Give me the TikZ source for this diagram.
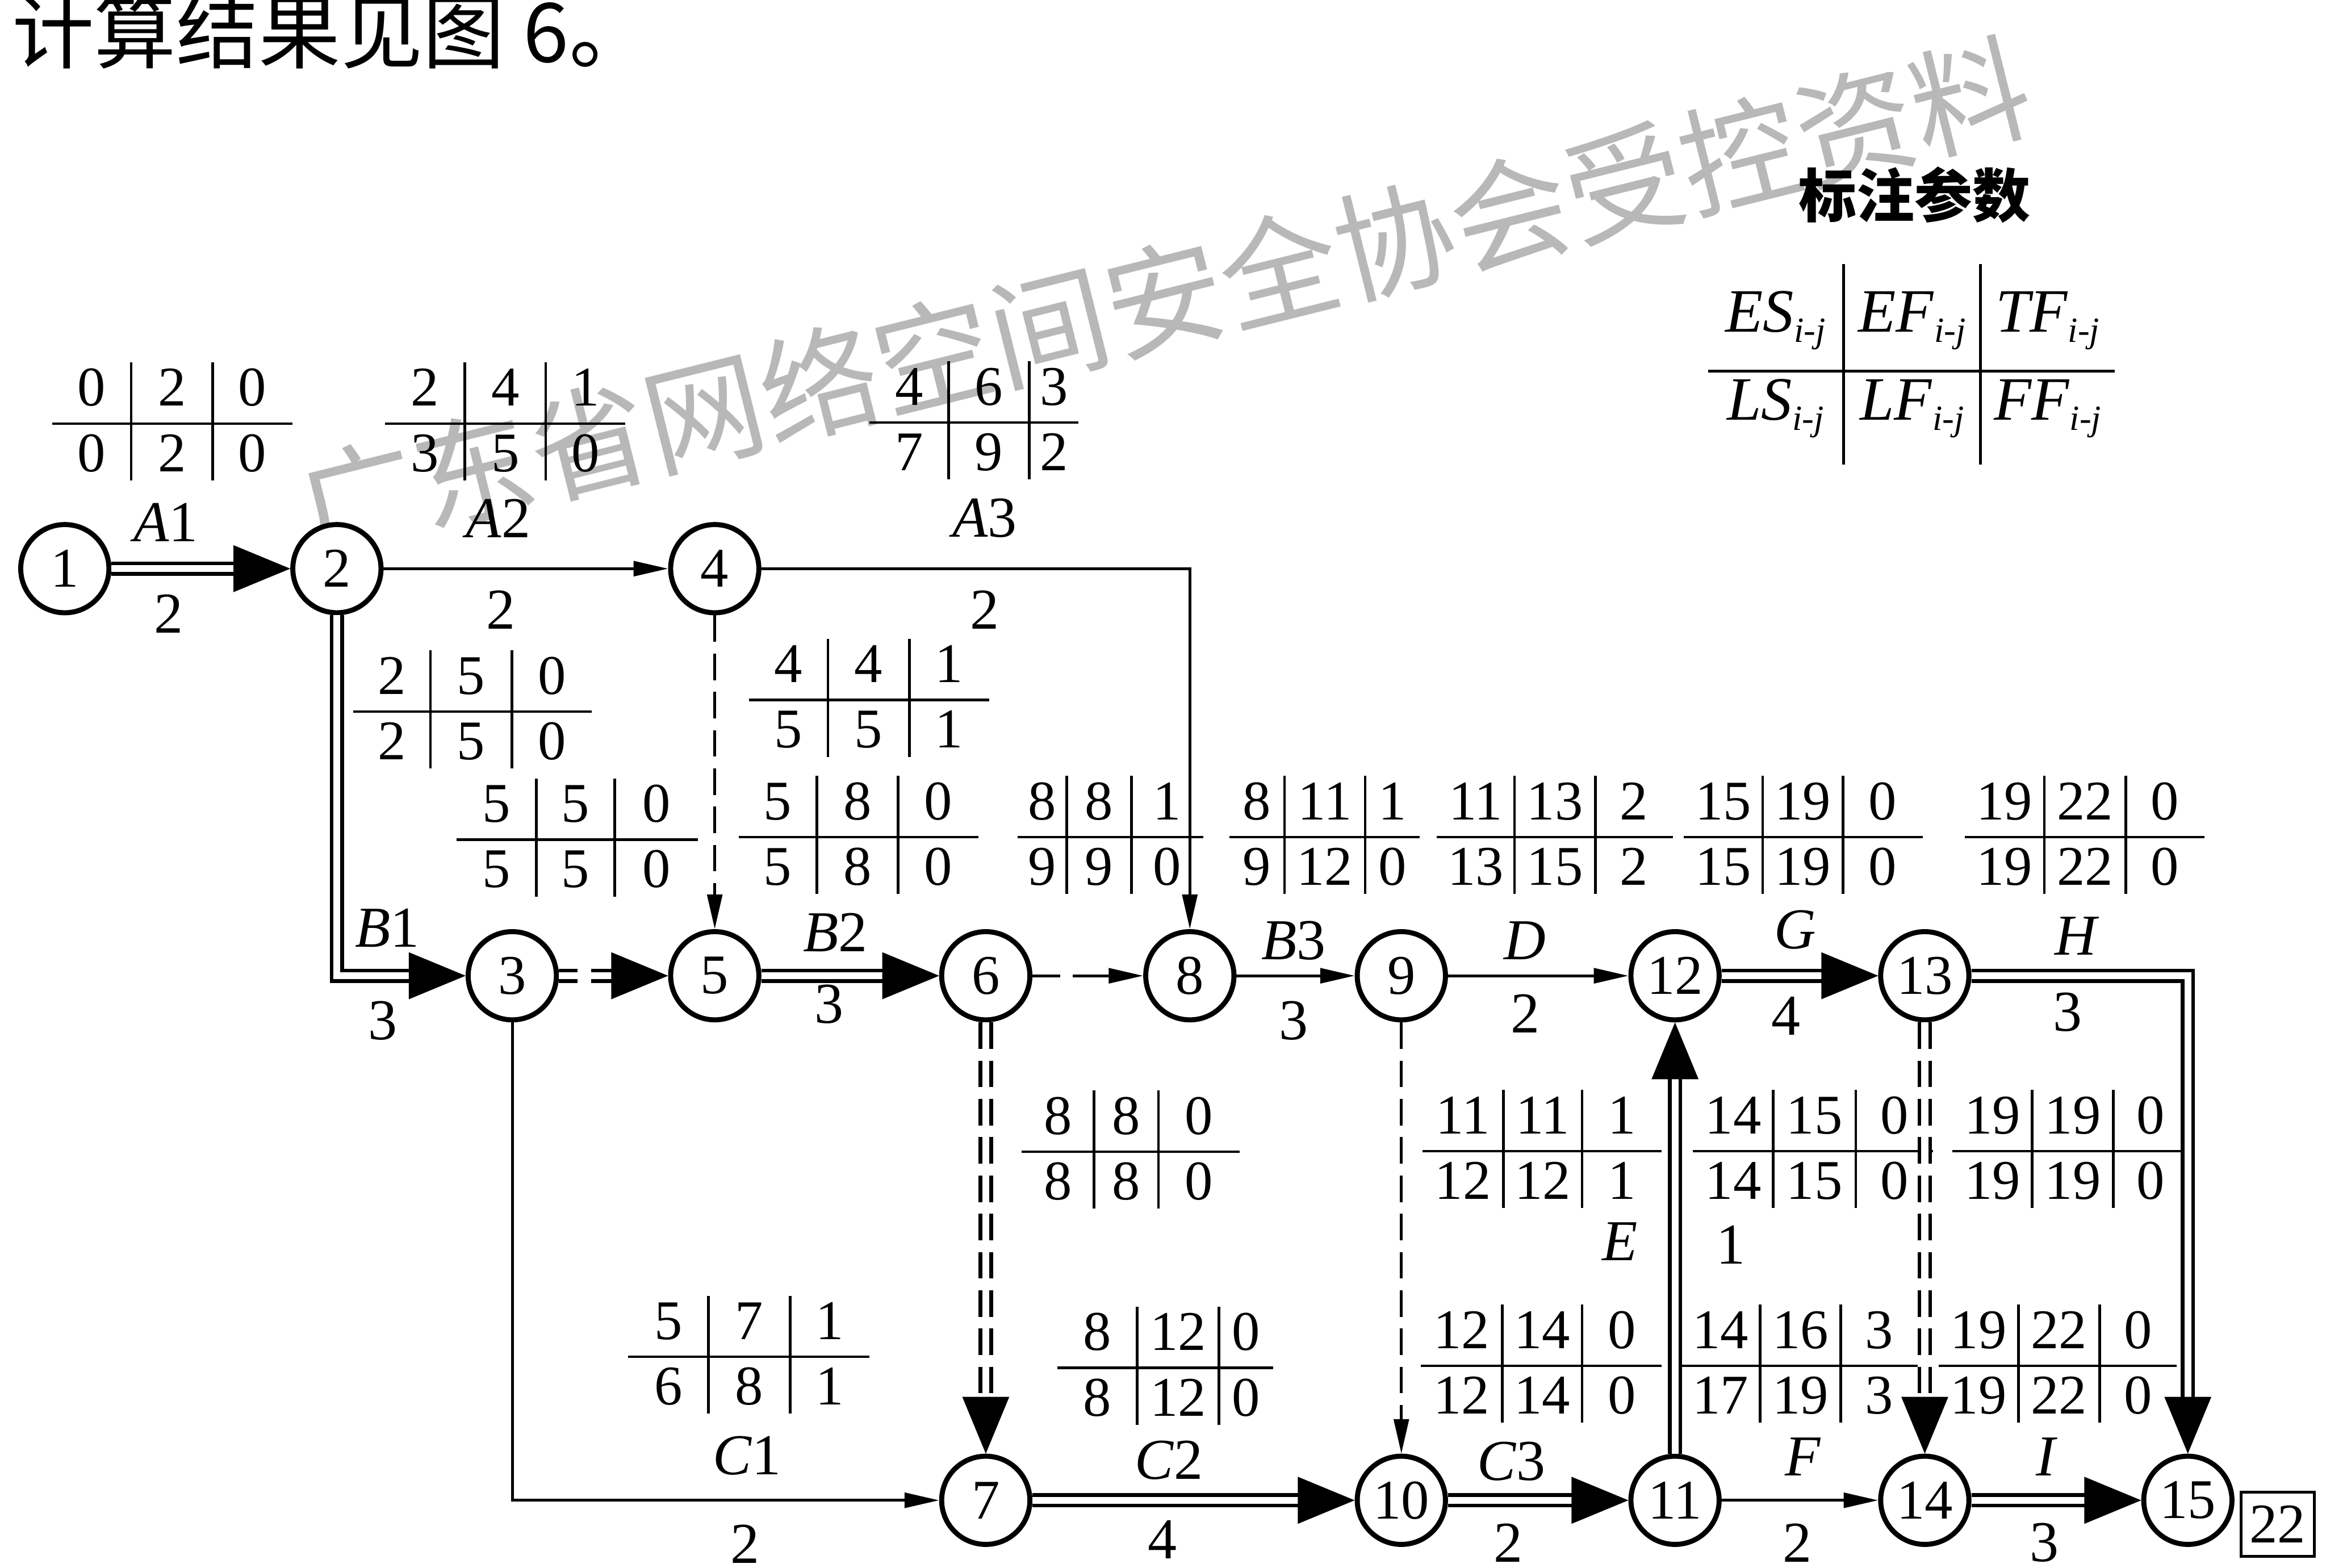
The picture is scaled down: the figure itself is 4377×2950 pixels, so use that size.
\documentclass[tikz,border=0pt]{standalone}
\usepackage{fontspec}
\setmainfont{Liberation Serif}
\newfontfamily\cjk{Noto Sans CJK SC}
\usetikzlibrary{arrows.meta,decorations.markings}
\definecolor{wm}{RGB}{184,184,184}
\newcommand\sbj[1]{\textit{#1}\raisebox{-1.9mm}{\fontsize{19}{19}\selectfont\textit{i}-\textit{j}}}
\tikzset{
  stn/.style={circle, draw, line width=0.95mm, minimum size=16.6mm, inner sep=0pt, fill=white,
    font=\fontsize{30}{30}\selectfont},
  act/.style={draw, line width=0.55mm, -{Triangle[length=6.5mm,width=2.8mm]}},
  dum/.style={act, dash pattern=on 5mm off 2.2mm},
  crit/.style={draw, line width=0.7mm, double=white, double distance=1.3mm, shorten >=5mm,
    postaction={decorate, solid, decoration={markings,
      mark=at position 1 with {\arrow{Triangle[length=10.7mm,width=8.8mm,line width=0.2mm]}}}}},
  tl/.style={line width=0.5mm},
  num/.style={font=\fontsize{30}{30}\selectfont, inner sep=0pt, anchor=base},
  lab/.style={font=\fontsize{31}{31}\selectfont, inner sep=0pt},
  leg/.style={font=\fontsize{33}{33}\selectfont, inner sep=0pt, anchor=base},
}
\begin{document}
\begin{tikzpicture}[x=0.1mm, y=-0.1mm]
\useasboundingbox (0,0) rectangle (4377,2950);
% watermark
\node[font=\cjk\fontsize{63.5}{63.5}\selectfont, text=wm, rotate=14, inner sep=0pt] (wmk) at (2191,560) {广东省网络空间安全协会受控资料};
% title
\node[font=\cjk\fontsize{44}{44}\selectfont, anchor=base west, inner sep=0pt] (ttl) at (22,117) {计算结果见图 6。};
% legend
\node[font=\cjk\bfseries\fontsize{31}{31}\selectfont, inner sep=0pt] (lgt) at (3603,367) {标注参数};
\draw[tl] (3214,698) -- (3979,698);
\draw[tl] (3469,497) -- (3469,874);
\draw[tl] (3727,497) -- (3727,874);
\node[leg] (lg1) at (3341,625) {\sbj{ES}};
\node[leg] (lg2) at (3598,625) {\sbj{EF}};
\node[leg] (lg3) at (3853,625) {\sbj{TF}};
\node[leg] (lg4) at (3341,790) {\sbj{LS}};
\node[leg] (lg5) at (3598,790) {\sbj{LF}};
\node[leg] (lg6) at (3853,790) {\sbj{FF}};
% time parameter tables
\foreach \nm/\xl/\xa/\xb/\xr/\yy/\pa/\pb/\pc/\pd/\pe/\pf in {
 tA1/98/247/400/550/797/0/2/0/0/2/0,
 tA2/725/875/1027/1177/797/2/4/1/3/5/0,
 tA3/1636/1785/1937/2029/795/4/6/3/7/9/2,
 tB1/665/810/963/1114/1339/2/5/0/2/5/0,
 tT35/859/1009/1157/1313/1580/5/5/0/5/5/0,
 tT45/1409/1558/1711/1861/1317/4/4/1/5/5/1,
 tB2/1390/1537/1690/1841/1575/5/8/0/5/8/0,
 tT68/1915/2007/2129/2264/1575/8/8/1/9/9/0,
 tB3/2313/2417/2569/2671/1575/8/11/1/9/12/0,
 tD/2704/2850/3002/3148/1575/11/13/2/13/15/2,
 tG/3168/3317/3468/3618/1575/15/19/0/15/19/0,
 tH/3697/3847/4000/4148/1575/19/22/0/19/22/0,
 tT67/1922/2059/2180/2333/2167/8/8/0/8/8/0,
 tE/2677/2829/2977/3127/2166/11/11/1/12/12/1,
 tT1314/3186/3337/3492/3637/2166/14/15/0/14/15/0,
 tT1315/3674/3824/3977/4117/2166/19/19/0/19/19/0,
 tC1/1182/1333/1487/1636/2553/5/7/1/6/8/1,
 tC2/1990/2140/2294/2396/2574/8/12/0/8/12/0,
 tC3/2674/2827/2977/3127/2570/12/14/0/12/14/0,
 tF/3163/3312/3464/3609/2570/14/16/3/17/19/3,
 tI/3648/3798/3951/4096/2570/19/22/0/19/22/0}{
  \draw[tl] (\xl,\yy) -- (\xr,\yy);
  \draw[tl] (\xa,\yy-115) -- (\xa,\yy+107);
  \draw[tl] (\xb,\yy-115) -- (\xb,\yy+107);
  \node[num] (\nm-a) at ({(\xl+\xa)/2},\yy-33) {\pa};
  \node[num] (\nm-b) at ({(\xa+\xb)/2},\yy-33) {\pb};
  \node[num] (\nm-c) at ({(\xb+\xr)/2},\yy-33) {\pc};
  \node[num] (\nm-d) at ({(\xl+\xa)/2},\yy+90) {\pd};
  \node[num] (\nm-e) at ({(\xa+\xb)/2},\yy+90) {\pe};
  \node[num] (\nm-f) at ({(\xb+\xr)/2},\yy+90) {\pf};
}
% event nodes
\node[stn] (n1) at (122,1070) {1};
\node[stn] (n2) at (634,1070) {2};
\node[stn] (n4) at (1345,1070) {4};
\node[stn] (n3) at (964,1836) {3};
\node[stn] (n5) at (1345,1836) {5};
\node[stn] (n6) at (1855,1836) {6};
\node[stn] (n8) at (2239,1836) {8};
\node[stn] (n9) at (2637,1836) {9};
\node[stn] (n12) at (3152,1836) {12};
\node[stn] (n13) at (3622,1836) {13};
\node[stn] (n7) at (1855,2823) {7};
\node[stn] (n10) at (2637,2823) {10};
\node[stn] (n11) at (3152,2823) {11};
\node[stn] (n14) at (3622,2823) {14};
\node[stn] (n15) at (4117,2823) {15};
\node[draw, line width=0.5mm, minimum width=13.8mm, minimum height=12.1mm, inner sep=0pt,
  font=\fontsize{30}{30}\selectfont] (tot) at (4286,2868) {22};
% activities
\draw[crit] (n1) -- (n2);
\draw[act] (n2) -- (n4);
\draw[act] (n4) -| (n8);
\draw[crit] (n2) |- (n3);
\draw[crit, dash pattern=on 3.5mm off 2.6mm on 30mm off 1mm] (n3) -- (n5);
\draw[dum] (n4) -- (n5);
\draw[crit] (n5) -- (n6);
\draw[act, dash pattern=on 5.2mm off 2.4mm on 30mm off 1mm] (n6) -- (n8);
\draw[act] (n8) -- (n9);
\draw[act] (n9) -- (n12);
\draw[crit] (n12) -- (n13);
\draw[crit] (n13) -| (n15);
\draw[act] (n3) |- (n7);
\draw[crit, dash pattern=on 5mm off 2.2mm] (n6) -- (n7);
\draw[crit] (n7) -- (n10);
\draw[dum] (n9) -- (n10);
\draw[crit] (n10) -- (n11);
\draw[crit] (n11) -- (n12);
\draw[act] (n11) -- (n14);
\draw[crit, dash pattern=on 5mm off 2.2mm] (n13) -- (n14);
\draw[crit] (n14) -- (n15);
% activity labels
\foreach \nm/\xx/\yy/\tx in {
 lA1/312/983/{\textit{A}1}, dA1/317/1155/2,
 lA2/938/975/{\textit{A}2}, dA2/942/1147/2,
 lA3/1853/975/{\textit{A}3}, dA3/1853/1147/2,
 lB1/729/1746/{\textit{B}1}, dB1/720/1920/3,
 lB2/1572/1755/{\textit{B}2}, dB2/1560/1890/3,
 lB3/2434/1770/{\textit{B}3}, dB3/2434/1921/3,
 lD/2870/1770/{\textit{D}}, dD/2870/1907/2,
 lG/3378/1750/{\textit{G}}, dG/3361/1912/4,
 lH/3908/1761/{\textit{H}}, dH/3891/1904/3,
 lC1/1406/2739/{\textit{C}1}, dC1/1402/2905/2,
 lC2/2200/2748/{\textit{C}2}, dC2/2187/2897/4,
 lC3/2844/2750/{\textit{C}3}, dC3/2838/2903/2,
 lF/3393/2741/{\textit{F}}, dF/3382/2903/2,
 lI/3852/2741/{\textit{I}}, dI/3847/2903/3,
 lE/3048/2336/{\textit{E}}, dE/3257/2342/1}{
  \node[lab] (\nm) at (\xx,\yy) {\tx};
}
\end{tikzpicture}
\end{document}
